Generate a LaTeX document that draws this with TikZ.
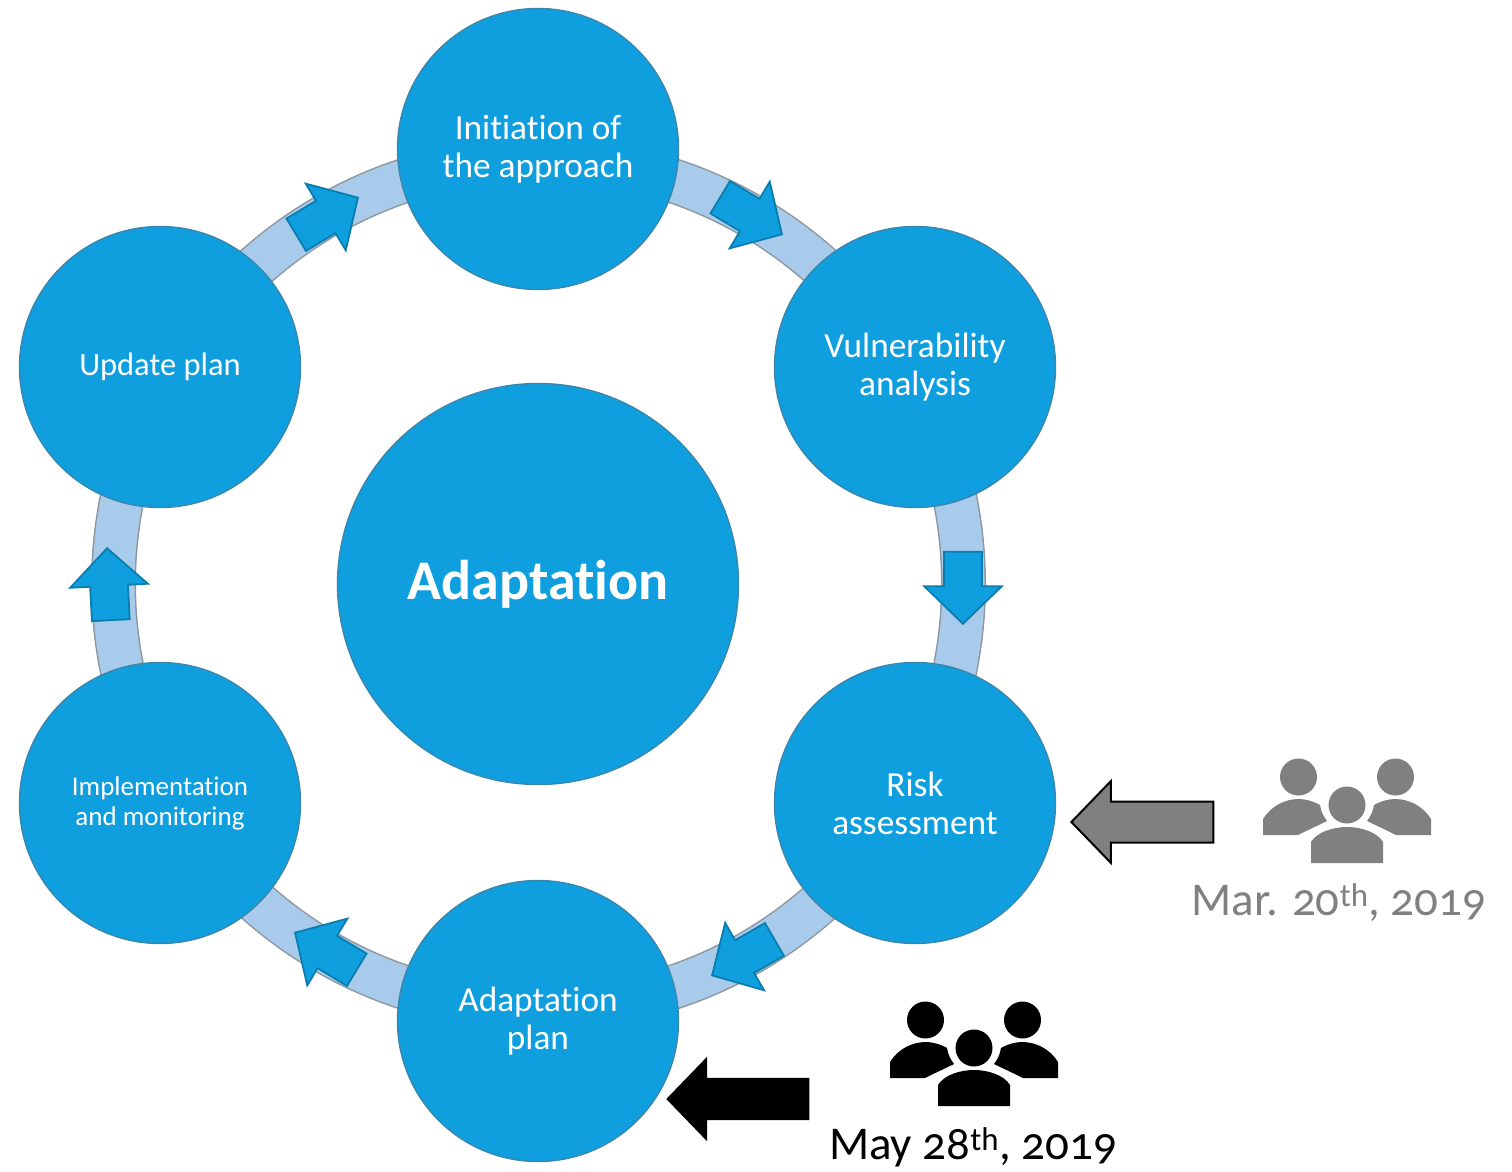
\documentclass[tikz,border=0pt]{standalone}
\usepackage{fontspec}
\setmainfont[Numbers=OldStyle,Ligatures=NoCommon]{Carlito}
\usetikzlibrary{shapes.arrows}
\definecolor{stepblue}{HTML}{0F9FDF}
\definecolor{stepedge}{HTML}{3A86AC}
\definecolor{ringblue}{HTML}{A8CBEC}
\definecolor{ringedge}{HTML}{8F979E}
\definecolor{arrowedge}{HTML}{0A7DAE}
\definecolor{icongray}{HTML}{808080}
\tikzset{stepcircle/.style = {circle, fill=stepblue, draw=stepedge, line width=1.4pt,
                              minimum size=281pt, inner sep=0pt, align=center, text=white,
                              font=\fontsize{35.3}{38}\selectfont},
         smallarrow/.style = {single arrow, fill=stepblue, draw=arrowedge, line width=1.8pt,
                              inner sep=18pt, minimum height=72pt, anchor=tip,
                              single arrow head extend=20pt, single arrow tip angle=92},
         bigarrow/.style = {single arrow, inner sep=21pt, minimum height=143pt, anchor=tip,
                            single arrow head extend=21pt, single arrow tip angle=92},
         datelabel/.style = {font=\fontsize{47}{50}\selectfont},
         pics/people/.style = {code={
           \fill [#1] (0, 0) circle (18.5);
           \fill [#1] (-36, 58) -- (-36, 37) .. controls (-30, 27) and (-14, 22) .. (0, 22)
                      .. controls (14, 22) and (30, 27) .. (36, 37) -- (36, 58) -- cycle;
           \foreach \side in {-1, 1} {
             \fill [#1, xscale=\side] (-48.5, -28) circle (18.5);
             \fill [#1, xscale=\side] (-84, 30) -- (-84, 14) .. controls (-76, 1) and (-62, -6) .. (-48, -6)
                      .. controls (-42, -6) and (-34, -4) .. (-27, 0)
                      .. controls (-26, 7) and (-23, 12) .. (-20, 16)
                      .. controls (-28, 20) and (-37, 24) .. (-49, 30) -- cycle;
           }
         }}}
\begin{document}
\begin{tikzpicture}[x=1pt, y=-1pt]
  \useasboundingbox (0, 0) rectangle (1512, 1172);

  \coordinate (hub) at (538, 584);
  % ring behind the circles
  \draw [ringedge, line width=45pt] (538.5, 584) circle (425);
  \draw [ringblue, line width=42pt] (538.5, 584) circle (425);

  \node [stepcircle, minimum size=401pt, font=\fontsize{56}{60}\selectfont\bfseries] (adaptation) at (hub) {Adaptation};
  \node [stepcircle] (initiation) at (538, 149) {Initiation of\\the approach};
  \node [stepcircle] (vulnerability) at (915, 367) {Vulnerability\\analysis};
  \node [stepcircle] (risk) at (915, 803) {Risk\\assessment};
  \node [stepcircle] (plan) at (538, 1021) {Adaptation\\plan};
  \node [stepcircle, font=\fontsize{27}{30}\selectfont] (implementation) at (160, 803) {Implementation\\and monitoring};
  \node [stepcircle, font=\fontsize{32.5}{38}\selectfont] (update) at (160, 367) {Update plan};

  \node [smallarrow, rotate=-31] (arrowa) at (783, 235) {};
  \node [smallarrow, rotate=-90] (arrowb) at (963, 625) {};
  \node [smallarrow, rotate=210] (arrowc) at (711, 976) {};
  \node [smallarrow, rotate=149] (arrowd) at (294, 932) {};
  \node [smallarrow, rotate=93] (arrowe) at (107, 547) {};
  \node [smallarrow, rotate=31] (arrowf) at (359, 197) {};

  \node [bigarrow, rotate=180, fill=icongray, draw=black, line width=2pt, inner sep=19.5pt,
         minimum height=142pt, single arrow head extend=20.5pt] (arrowmar) at (1070, 822) {};
  \node [bigarrow, rotate=180, fill=black] (arrowmay) at (666, 1099) {};

  \pic (peoplemar) at (1347, 805) {people=icongray};
  \pic (peoplemay) at (974, 1048) {people=black};

  \node [datelabel, text=icongray] (datemar) at (1339, 903) {Mar. 20\textsuperscript{th}, 2019};
  \node [datelabel] (datemay) at (973, 1147) {May 28\textsuperscript{th}, 2019};
\end{tikzpicture}
\end{document}
